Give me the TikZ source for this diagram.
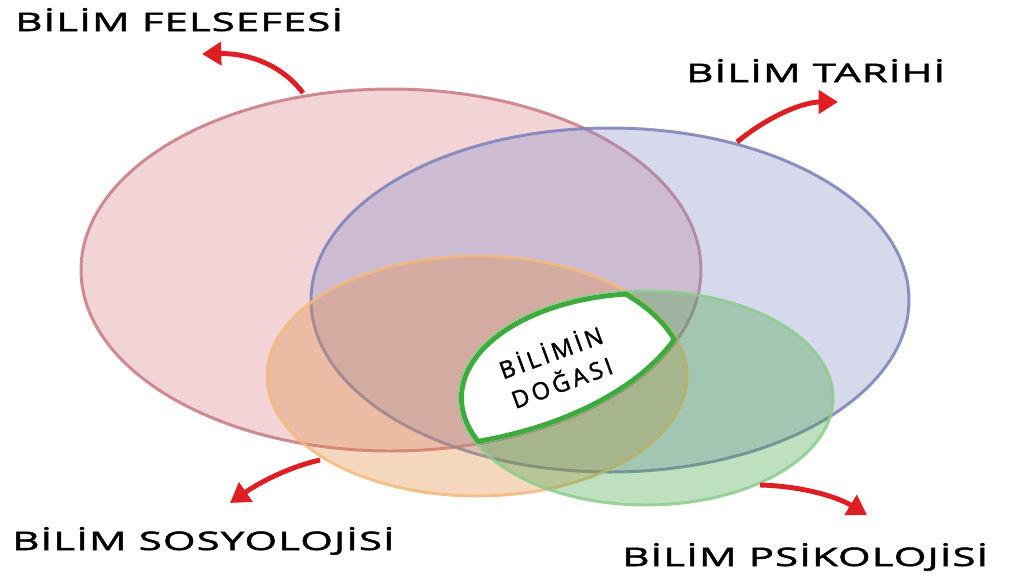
\documentclass[tikz,border=0pt]{standalone}
\usepackage{fontspec}
\setmainfont{Open Sans}
\newfontfamily\etiketfont[FakeStretch=1.65, LetterSpace=4, FakeBold=2]{Open Sans}
\newfontfamily\ortafont[LetterSpace=15, FakeBold=1.5]{Open Sans}
\usetikzlibrary{arrows.meta}

\definecolor{felsefeRenk}{RGB}{218,132,138}
\definecolor{felsefeCizgi}{RGB}{200,120,130}
\definecolor{tarihRenk}{RGB}{138,144,201}
\definecolor{tarihCizgi}{RGB}{122,128,185}
\definecolor{sosyoRenk}{RGB}{226,141,69}
\definecolor{sosyoCizgi}{RGB}{242,185,125}
\definecolor{psikoRenk}{RGB}{70,165,70}
\definecolor{psikoCizgi}{RGB}{140,205,140}
\definecolor{dogaCizgi}{RGB}{60,170,60}
\definecolor{okRenk}{RGB}{222,30,35}

\begin{document}
\begin{tikzpicture}[x=0.02cm, y=-0.02cm,
    alan/.style={line width=1.7pt, fill opacity=0.35, draw opacity=0.85},
    baslik/.style={anchor=base west, inner sep=0pt, font=\etiketfont\fontsize{14.5}{17}\selectfont},
    orta/.style={anchor=base, rotate=20, inner sep=0pt, font=\ortafont\fontsize{13.5}{16}\selectfont},
    ok/.style={-{Triangle[width=13pt, length=11pt]}, line width=2.8pt, draw=okRenk}]
    \useasboundingbox (0,0) rectangle (1018,576);

    % dort alan
    \filldraw[alan, fill=felsefeRenk, draw=felsefeCizgi] (391,270) ellipse [x radius=310, y radius=181];
    \filldraw[alan, fill=tarihRenk, draw=tarihCizgi] (610,300) ellipse [x radius=299, y radius=172];
    \filldraw[alan, fill=sosyoRenk, draw=sosyoCizgi] (477,376) ellipse [x radius=210, y radius=120];
    \filldraw[alan, fill=psikoRenk, draw=psikoCizgi] (646,398) ellipse [x radius=187, y radius=107];

    % ortak bolge
    \begin{scope}
        \clip (646,398) ellipse [x radius=187, y radius=107];
        \clip (391,270) ellipse [x radius=310, y radius=181];
        \clip (477,376) ellipse [x radius=210, y radius=120];
        \fill[white] (440,250) rectangle (720,460);
        \draw[dogaCizgi, line width=5.6pt] (646,398) ellipse [x radius=187, y radius=107];
        \draw[dogaCizgi, line width=5.6pt] (391,270) ellipse [x radius=310, y radius=181];
        \draw[dogaCizgi, line width=5.6pt] (477,376) ellipse [x radius=210, y radius=120];
    \end{scope}
    \node[orta] (doga1) at (554,361) {BİLİMİN};
    \node[orta] (doga2) at (565,391) {DOĞASI};

    % basliklar
    \node[baslik] (felsefe) at (15,31) {BİLİM FELSEFESİ};
    \node[baslik] (tarih) at (686,82) {BİLİM TARİHİ};
    \node[baslik] (sosyo) at (12,550) {BİLİM SOSYOLOJİSİ};
    \node[baslik] (psiko) at (622,566) {BİLİM PSİKOLOJİSİ};

    % oklar
    \coordinate (felsefe-kok) at (303,93);
    \coordinate (felsefe-uc) at (202,54);
    \coordinate (tarih-kok) at (737,142);
    \coordinate (tarih-uc) at (838,102);
    \coordinate (sosyo-kok) at (320,460);
    \coordinate (sosyo-uc) at (230,503);
    \coordinate (psiko-kok) at (760,485);
    \coordinate (psiko-uc) at (867,515);

    \draw[ok] (felsefe-kok) .. controls (283,66) and (250,53) .. (felsefe-uc);
    \draw[ok] (tarih-kok) .. controls (770,115) and (804,102) .. (tarih-uc);
    \draw[ok] (sosyo-kok) .. controls (293,466) and (263,480) .. (sosyo-uc);
    \draw[ok] (psiko-kok) .. controls (800,486) and (836,496) .. (psiko-uc);
\end{tikzpicture}
\end{document}
